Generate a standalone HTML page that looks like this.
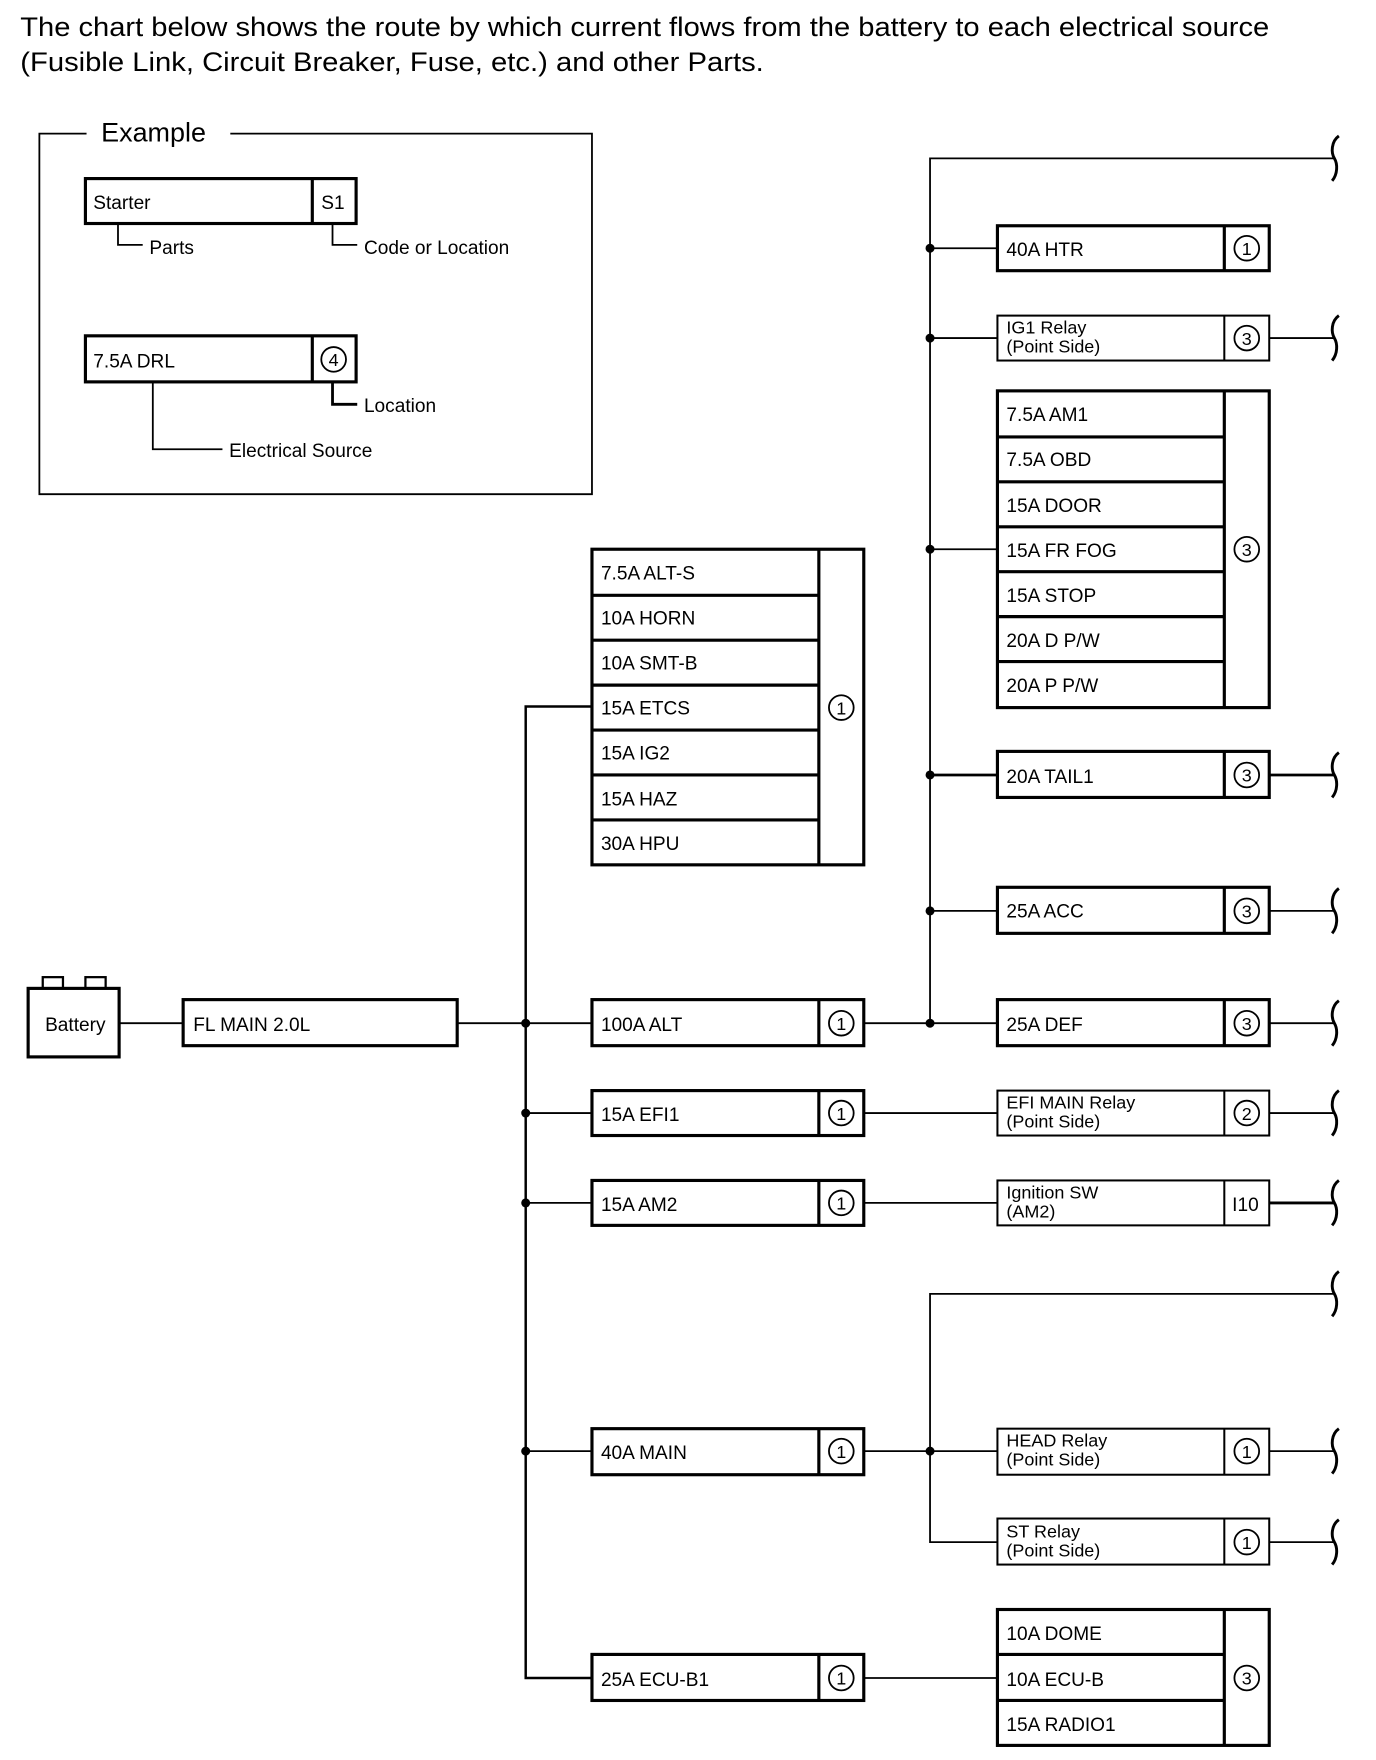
<!DOCTYPE html>
<html><head><meta charset="utf-8"><style>
html,body{margin:0;padding:0;background:#fff}
svg{display:block}
text{font-family:"Liberation Sans",Arial,sans-serif;fill:#000}
</style></head><body>
<svg width="1376" height="1760" viewBox="0 0 1225 1567" xmlns="http://www.w3.org/2000/svg">
<g font-size="24">
<text x="18" y="32" textLength="1112" lengthAdjust="spacingAndGlyphs">The chart below shows the route by which current flows from the battery to each electrical source</text>
<text x="18" y="63" textLength="662" lengthAdjust="spacingAndGlyphs">(Fusible Link, Circuit Breaker, Fuse, etc.) and other Parts.</text>
</g>
<!-- Example box -->
<g fill="none" stroke="#000" stroke-width="1.6">
<path d="M77,119 H35 V440 H527 V119 H205"/>
<path d="M105,199 V218 H127"/>
<path d="M296,199 V218 H318"/>
<path d="M296,340 V360 H318" stroke-width="2.5"/>
<path d="M136,340 V400 H198"/>
</g>
<text x="90" y="126" font-size="24">Example</text>
<g fill="none" stroke="#000" stroke-width="2.8">
<rect x="76" y="159" width="241" height="40"/><line x1="278" y1="159" x2="278" y2="199"/>
<rect x="76" y="299" width="241" height="41"/><line x1="278" y1="299" x2="278" y2="340"/>
</g>
<g font-size="17">
<text x="83" y="186">Starter</text><text x="286" y="186">S1</text>
<text x="133" y="226">Parts</text><text x="324" y="226">Code or Location</text>
<text x="83" y="327">7.5A DRL</text>
<text x="324" y="367">Location</text><text x="204" y="407">Electrical Source</text>
</g>
<circle cx="297" cy="320" r="11" fill="none" stroke="#000" stroke-width="1.6"/>
<text x="297" y="326" font-size="16" text-anchor="middle">4</text>

<!-- wires -->
<g fill="none" stroke="#000" stroke-width="1.6">
<line x1="106" y1="911" x2="163" y2="911"/>
<line x1="407" y1="911" x2="527" y2="911"/>
<path d="M527,629 H468 V1494 H527" stroke-width="2.2"/>
<line x1="468" y1="991" x2="527" y2="991"/>
<line x1="468" y1="1071" x2="527" y2="1071"/>
<line x1="468" y1="1292" x2="527" y2="1292"/>
<line x1="769" y1="911" x2="888" y2="911"/>
<line x1="769" y1="991" x2="888" y2="991"/>
<line x1="769" y1="1071" x2="888" y2="1071"/>
<line x1="769" y1="1292" x2="888" y2="1292"/>
<line x1="769" y1="1494" x2="888" y2="1494"/>
<path d="M1188,141 H828 V911"/>
<line x1="828" y1="221" x2="888" y2="221"/>
<line x1="828" y1="301" x2="888" y2="301"/>
<line x1="828" y1="489" x2="888" y2="489"/>
<line x1="828" y1="690" x2="888" y2="690" stroke-width="2.5"/>
<line x1="828" y1="811" x2="888" y2="811"/>
<path d="M1188,1152 H828 V1373 H888"/>
<line x1="1130" y1="301" x2="1188" y2="301"/>
<line x1="1130" y1="690" x2="1188" y2="690" stroke-width="2.5"/>
<line x1="1130" y1="811" x2="1188" y2="811"/>
<line x1="1130" y1="911" x2="1188" y2="911"/>
<line x1="1130" y1="991" x2="1188" y2="991"/>
<line x1="1130" y1="1071" x2="1188" y2="1071" stroke-width="2.5"/>
<line x1="1130" y1="1292" x2="1188" y2="1292"/>
<line x1="1130" y1="1373" x2="1188" y2="1373"/>
</g>
<!-- squiggles -->
<g fill="none" stroke="#000" stroke-width="2.6">
<path d="M1192,121 C1185,126 1185,136 1188,141 C1191,146 1191,155 1186,161"/>
<path d="M1192,281 C1185,286 1185,296 1188,301 C1191,306 1191,315 1186,321"/>
<path d="M1192,670 C1185,675 1185,685 1188,690 C1191,695 1191,704 1186,710"/>
<path d="M1192,791 C1185,796 1185,806 1188,811 C1191,816 1191,825 1186,831"/>
<path d="M1192,891 C1185,896 1185,906 1188,911 C1191,916 1191,925 1186,931"/>
<path d="M1192,971 C1185,976 1185,986 1188,991 C1191,996 1191,1005 1186,1011"/>
<path d="M1192,1051 C1185,1056 1185,1066 1188,1071 C1191,1076 1191,1085 1186,1091"/>
<path d="M1192,1132 C1185,1137 1185,1147 1188,1152 C1191,1157 1191,1166 1186,1172"/>
<path d="M1192,1272 C1185,1277 1185,1287 1188,1292 C1191,1297 1191,1306 1186,1312"/>
<path d="M1192,1353 C1185,1358 1185,1368 1188,1373 C1191,1378 1191,1387 1186,1393"/>
</g>
<!-- dots -->
<g fill="#000">
<circle cx="468" cy="911" r="4"/><circle cx="468" cy="991" r="4"/><circle cx="468" cy="1071" r="4"/><circle cx="468" cy="1292" r="4"/>
<circle cx="828" cy="221" r="4"/><circle cx="828" cy="301" r="4"/><circle cx="828" cy="489" r="4"/><circle cx="828" cy="690" r="4"/><circle cx="828" cy="811" r="4"/><circle cx="828" cy="911" r="4"/><circle cx="828" cy="1292" r="4"/>
</g>
<!-- battery -->
<g fill="none" stroke="#000" stroke-width="2.8">
<rect x="25" y="880" width="81" height="61"/>
<rect x="38" y="870" width="18" height="10" stroke-width="2"/>
<rect x="76" y="870" width="18" height="10" stroke-width="2"/>
<rect x="163" y="890" width="244" height="41"/>
</g>
<text x="67" y="918" font-size="17" text-anchor="middle">Battery</text>
<text x="172" y="918" font-size="17">FL MAIN 2.0L</text>

<!-- boxes -->
<g fill="none" stroke="#000" stroke-width="2.8">
<rect x="527" y="489" width="242" height="281"/><line x1="729" y1="489" x2="729" y2="770"/>
<path d="M527,530 H729 M527,570 H729 M527,610 H729 M527,650 H729 M527,690 H729 M527,730 H729"/>
<rect x="527" y="890" width="242" height="41"/><line x1="729" y1="890" x2="729" y2="931"/>
<rect x="527" y="971" width="242" height="40"/><line x1="729" y1="971" x2="729" y2="1011"/>
<rect x="527" y="1051" width="242" height="40"/><line x1="729" y1="1051" x2="729" y2="1091"/>
<rect x="527" y="1272" width="242" height="41"/><line x1="729" y1="1272" x2="729" y2="1313"/>
<rect x="527" y="1473" width="242" height="41"/><line x1="729" y1="1473" x2="729" y2="1514"/>

<rect x="888" y="201" width="242" height="40"/><line x1="1090" y1="201" x2="1090" y2="241"/>
<rect x="888" y="348" width="242" height="282"/><line x1="1090" y1="348" x2="1090" y2="630"/>
<path d="M888,389 H1090 M888,429 H1090 M888,469 H1090 M888,509 H1090 M888,549 H1090 M888,589 H1090"/>
<rect x="888" y="669" width="242" height="41"/><line x1="1090" y1="669" x2="1090" y2="710"/>
<rect x="888" y="790" width="242" height="41"/><line x1="1090" y1="790" x2="1090" y2="831"/>
<rect x="888" y="890" width="242" height="41"/><line x1="1090" y1="890" x2="1090" y2="931"/>
<rect x="888" y="1433" width="242" height="121"/><line x1="1090" y1="1433" x2="1090" y2="1554"/>
<path d="M888,1473 H1090 M888,1514 H1090"/>
</g>
<g fill="none" stroke="#000" stroke-width="1.8">
<rect x="888" y="281" width="242" height="40"/><line x1="1090" y1="281" x2="1090" y2="321"/>
<rect x="888" y="971" width="242" height="40"/><line x1="1090" y1="971" x2="1090" y2="1011"/>
<rect x="888" y="1051" width="242" height="40"/><line x1="1090" y1="1051" x2="1090" y2="1091"/>
<rect x="888" y="1272" width="242" height="41"/><line x1="1090" y1="1272" x2="1090" y2="1313"/>
<rect x="888" y="1352" width="242" height="41"/><line x1="1090" y1="1352" x2="1090" y2="1393"/>
</g>
<g font-size="17">
<text x="535" y="516">7.5A ALT-S</text><text x="535" y="556">10A HORN</text><text x="535" y="596">10A SMT-B</text>
<text x="535" y="636">15A ETCS</text><text x="535" y="676">15A IG2</text><text x="535" y="717">15A HAZ</text><text x="535" y="757">30A HPU</text>
<text x="535" y="918">100A ALT</text><text x="535" y="998">15A EFI1</text><text x="535" y="1078">15A AM2</text>
<text x="535" y="1299">40A MAIN</text><text x="535" y="1501">25A ECU-B1</text>
<text x="896" y="228">40A HTR</text>
<text x="896" y="375">7.5A AM1</text><text x="896" y="415">7.5A OBD</text><text x="896" y="456">15A DOOR</text>
<text x="896" y="496">15A FR FOG</text><text x="896" y="536">15A STOP</text><text x="896" y="576">20A D P/W</text><text x="896" y="616">20A P P/W</text>
<text x="896" y="697">20A TAIL1</text><text x="896" y="817">25A ACC</text><text x="896" y="918">25A DEF</text>
<text x="896" y="1460">10A DOME</text><text x="896" y="1501">10A ECU-B</text><text x="896" y="1541">15A RADIO1</text>
<text x="1097" y="1078">I10</text>
</g>
<g font-size="16">
<text x="896" y="297">IG1 Relay</text><text x="896" y="314">(Point Side)</text>
<text x="896" y="987">EFI MAIN Relay</text><text x="896" y="1004">(Point Side)</text>
<text x="896" y="1067">Ignition SW</text><text x="896" y="1084">(AM2)</text>
<text x="896" y="1288">HEAD Relay</text><text x="896" y="1305">(Point Side)</text>
<text x="896" y="1369">ST Relay</text><text x="896" y="1386">(Point Side)</text>
</g>
<!-- circled numbers -->
<g fill="none" stroke="#000" stroke-width="1.6">
<circle cx="749" cy="630" r="11"/><circle cx="749" cy="911" r="11"/><circle cx="749" cy="991" r="11"/><circle cx="749" cy="1071" r="11"/><circle cx="749" cy="1292" r="11"/><circle cx="749" cy="1494" r="11"/>
<circle cx="1110" cy="221" r="11"/><circle cx="1110" cy="301" r="11"/><circle cx="1110" cy="489" r="11"/><circle cx="1110" cy="690" r="11"/><circle cx="1110" cy="811" r="11"/><circle cx="1110" cy="911" r="11"/><circle cx="1110" cy="991" r="11"/><circle cx="1110" cy="1292" r="11"/><circle cx="1110" cy="1373" r="11"/><circle cx="1110" cy="1494" r="11"/>
</g>
<g font-size="16" text-anchor="middle">
<text x="749" y="636">1</text><text x="749" y="917">1</text><text x="749" y="997">1</text><text x="749" y="1077">1</text><text x="749" y="1298">1</text><text x="749" y="1500">1</text>
<text x="1110" y="227">1</text><text x="1110" y="307">3</text><text x="1110" y="495">3</text><text x="1110" y="696">3</text><text x="1110" y="817">3</text><text x="1110" y="917">3</text><text x="1110" y="997">2</text><text x="1110" y="1298">1</text><text x="1110" y="1379">1</text><text x="1110" y="1500">3</text>
</g>
</svg>
</body></html>
